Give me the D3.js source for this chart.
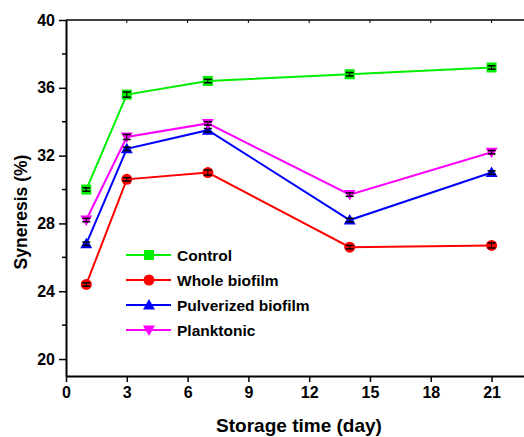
<!DOCTYPE html>
<html>
<head>
<meta charset="utf-8">
<script src="https://cdn.jsdelivr.net/npm/d3@7"></script>
<style>
  body { margin: 0; background: #fff; }
  text { font-family: Arial, "Liberation Sans", sans-serif; font-weight: bold; }
</style>
</head>
<body>
<div id="chart"></div>
<script>
// storage days and syneresis values (%)
var days = [1, 3, 7, 14, 21];
var control = [30.0, 35.6, 36.4, 36.8, 37.2];
var wholeBiofilm = [24.4, 30.6, 31.0, 26.6, 26.7];
var pulverized = [26.8, 32.4, 33.5, 28.2, 31.0];
var planktonic = [28.2, 33.1, 33.9, 29.7, 32.2];
var controlErr = [0.1, 0.15, 0.1, 0.1, 0.1];
var wholeErr = [0.1, 0.1, 0.15, 0.1, 0.15];
var pulvErr = [0.1, 0.1, 0.1, 0.1, 0.1];
var plankErr = [0.1, 0.15, 0.1, 0.1, 0.1];
var seriesNames = ["Control", "Whole biofilm", "Pulverized biofilm", "Planktonic"];
var xTicks = [0, 3, 6, 9, 12, 15, 18, 21];
var yTicks = [20, 24, 28, 32, 36, 40];
var yMinor = [22, 26, 30, 34, 38];

var width = 524, height = 437;
var margin = {top: 20, right: 0, bottom: 61, left: 66};

var series = [
    {name: seriesNames[0], values: control, err: controlErr, color: "#00ee00", symbol: "square"},
    {name: seriesNames[1], values: wholeBiofilm, err: wholeErr, color: "#ff0000", symbol: "circle"},
    {name: seriesNames[2], values: pulverized, err: pulvErr, color: "#0000ff", symbol: "up"},
    {name: seriesNames[3], values: planktonic, err: plankErr, color: "#ff00ff", symbol: "down"}
];

var svg = d3.select("#chart").append("svg")
    .attr("width", width)
    .attr("height", height);

var x = d3.scaleLinear()
    .domain([0, 22.6])
    .range([margin.left, width - margin.right]);

var y = d3.scaleLinear()
    .domain([19, 40])
    .range([height - margin.bottom, margin.top]);

// top frame line
svg.append("line")
    .attr("x1", x(0)).attr("x2", width)
    .attr("y1", y(40)).attr("y2", y(40))
    .attr("stroke", "#000").attr("stroke-width", 1.5);

// x axis bottom
var xAxis = svg.append("g")
    .attr("transform", "translate(0," + y(19) + ")")
    .call(d3.axisBottom(x).tickValues(xTicks).tickSize(6).tickPadding(5).tickSizeOuter(0));
xAxis.select(".domain").attr("stroke-width", 2);
xAxis.selectAll(".tick line").attr("stroke-width", 1.5);
xAxis.selectAll(".tick text").style("font-size", "16px").attr("fill", "#000");

// top ticks (inward)
svg.append("g").selectAll("line")
    .data(xTicks.slice(1))
    .enter().append("line")
    .attr("x1", function(d) { return x(d); })
    .attr("x2", function(d) { return x(d); })
    .attr("y1", y(40))
    .attr("y2", y(40) + 3)
    .attr("stroke", "#000");

// y axis left
var yAxis = svg.append("g")
    .attr("transform", "translate(" + x(0) + ",0)")
    .call(d3.axisLeft(y).tickValues(yTicks).tickSize(7).tickPadding(4).tickSizeOuter(0));
yAxis.select(".domain").attr("stroke-width", 2);
yAxis.selectAll(".tick line").attr("stroke-width", 1.5);
yAxis.selectAll(".tick text").style("font-size", "16px").attr("fill", "#000");

svg.append("g").selectAll("line")
    .data(yMinor)
    .enter().append("line")
    .attr("x1", x(0) - 4)
    .attr("x2", x(0))
    .attr("y1", function(d) { return y(d); })
    .attr("y2", function(d) { return y(d); })
    .attr("stroke", "#000")
    .attr("stroke-width", 1.5);

// axis titles
svg.append("text")
    .attr("text-anchor", "middle")
    .attr("x", 299)
    .attr("y", 432)
    .style("font-size", "19px")
    .text("Storage time (day)");

svg.append("text")
    .attr("text-anchor", "middle")
    .attr("transform", "translate(27,212) rotate(-90)")
    .style("font-size", "17.5px")
    .text("Syneresis (%)");

function symbolPath(type, cx, cy) {
    var s = 5;
    if (type == "square") {
        return "M" + (cx - s) + "," + (cy - s) + "h" + (2 * s) + "v" + (2 * s) + "h" + (-2 * s) + "Z";
    }
    if (type == "up") {
        return "M" + cx + "," + (cy - 6) + "L" + (cx + 6) + "," + (cy + 4.5) + "L" + (cx - 6) + "," + (cy + 4.5) + "Z";
    }
    if (type == "down") {
        return "M" + cx + "," + (cy + 6) + "L" + (cx + 6) + "," + (cy - 4.5) + "L" + (cx - 6) + "," + (cy - 4.5) + "Z";
    }
    return null;
}

var line = d3.line()
    .x(function(d) { return x(d[0]); })
    .y(function(d) { return y(d[1]); });

series.forEach(function(s) {
    var pts = days.map(function(d, i) { return [d, s.values[i], s.err[i]]; });
    var g = svg.append("g");

    g.append("path")
        .datum(pts)
        .attr("fill", "none")
        .attr("stroke", s.color)
        .attr("stroke-width", 2)
        .attr("d", line);

    pts.forEach(function(p) {
        var cx = x(p[0]), cy = y(p[1]);
        if (s.symbol == "circle") {
            g.append("circle").attr("cx", cx).attr("cy", cy).attr("r", 5.5).attr("fill", s.color);
        } else {
            g.append("path").attr("d", symbolPath(s.symbol, cx, cy)).attr("fill", s.color);
        }
        // error bar
        var y1 = y(p[1] + p[2]), y2 = y(p[1] - p[2]);
        g.append("line").attr("x1", cx).attr("x2", cx).attr("y1", y1).attr("y2", y2)
            .attr("stroke", "#000").attr("stroke-width", 1);
        [y1, y2].forEach(function(yy) {
            g.append("line").attr("x1", cx - 4).attr("x2", cx + 4).attr("y1", yy).attr("y2", yy)
                .attr("stroke", "#000").attr("stroke-width", 1.5);
        });
    });
});

// legend
var legend = svg.append("g");
series.forEach(function(s, i) {
    var ly = 255 + i * 25;
    legend.append("line")
        .attr("x1", 126).attr("x2", 171)
        .attr("y1", ly).attr("y2", ly)
        .attr("stroke", s.color).attr("stroke-width", 2);
    if (s.symbol == "circle") {
        legend.append("circle").attr("cx", 149).attr("cy", ly).attr("r", 5.5).attr("fill", s.color);
    } else {
        legend.append("path").attr("d", symbolPath(s.symbol, 149, ly)).attr("fill", s.color);
    }
    legend.append("text")
        .attr("x", 177)
        .attr("y", ly + 5.5)
        .style("font-size", "15.5px")
        .text(s.name);
});
</script>
</body>
</html>
